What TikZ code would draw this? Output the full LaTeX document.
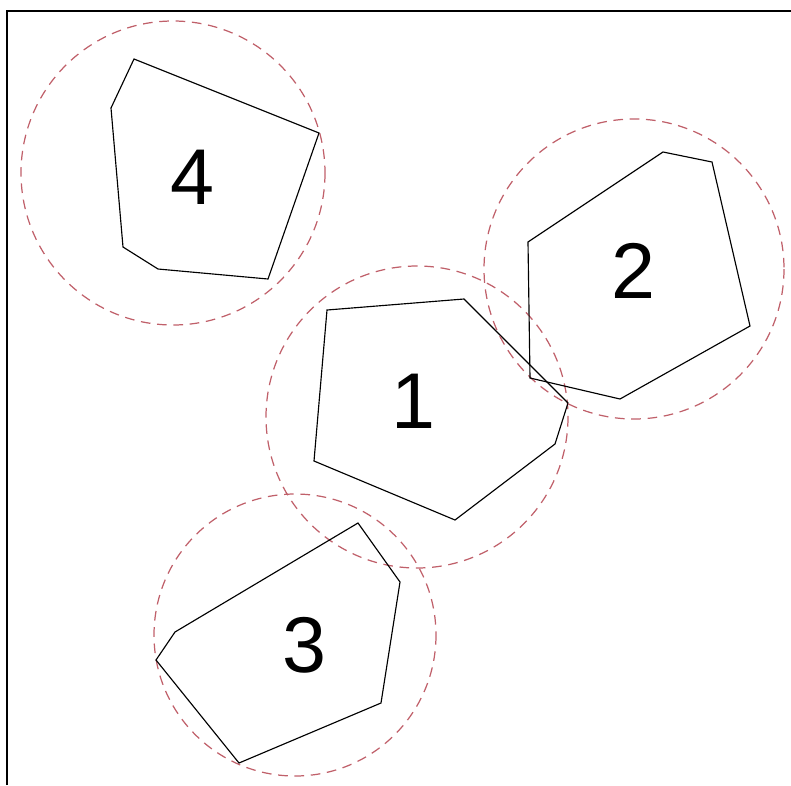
\documentclass[tikz,border=0pt]{standalone}
\usepackage{fontspec}
\setmainfont{Liberation Sans}
\usepackage{xcolor}
\definecolor{rim}{HTML}{C0606A}
\usetikzlibrary{positioning}

\begin{document}
\begin{tikzpicture}[x=0.02cm, y=-0.02cm,
  outline/.style={line width=0.65pt, black, line join=miter},
  reach/.style={line width=0.7pt, rim, dash pattern=on 5.5pt off 3.8pt},
  tag/.style={font=\fontsize{45}{45}\selectfont, inner sep=0pt}]
  \useasboundingbox (0,0) rectangle (791,785);
  \draw[line width=1.2pt] (7,785) -- (7,11) -- (791,11);

  % --- Block 1 ---
  \draw[reach] (417,417) circle (151);
  \draw[outline] (327,310) -- (464,299) -- (568,403) -- (555,444) -- (455,520) -- (314,461) -- cycle;
  \node[tag] (n1) at (413,401) {1};

  % --- Block 2 ---
  \draw[reach] (634,269) circle (150);
  \draw[outline] (528,242) -- (663,152) -- (712,162) -- (750,326) -- (620,399) -- (530,378) -- cycle;
  \node[tag] (n2) at (633,271) {2};

  % --- Block 3 ---
  \draw[reach] (295,635) circle (141);
  \draw[outline] (358,523) -- (400,582) -- (381,703) -- (239,763) -- (156,660) -- (175,632) -- cycle;
  \node[tag] (n3) at (304,645) {3};

  % --- Block 4 ---
  \draw[reach] (173,173) circle (152);
  \draw[outline] (134,59) -- (319,133) -- (268,279) -- (158,269) -- (123,247) -- (111,108) -- cycle;
  \node[tag] (n4) at (192,177) {4};
\end{tikzpicture}
\end{document}
